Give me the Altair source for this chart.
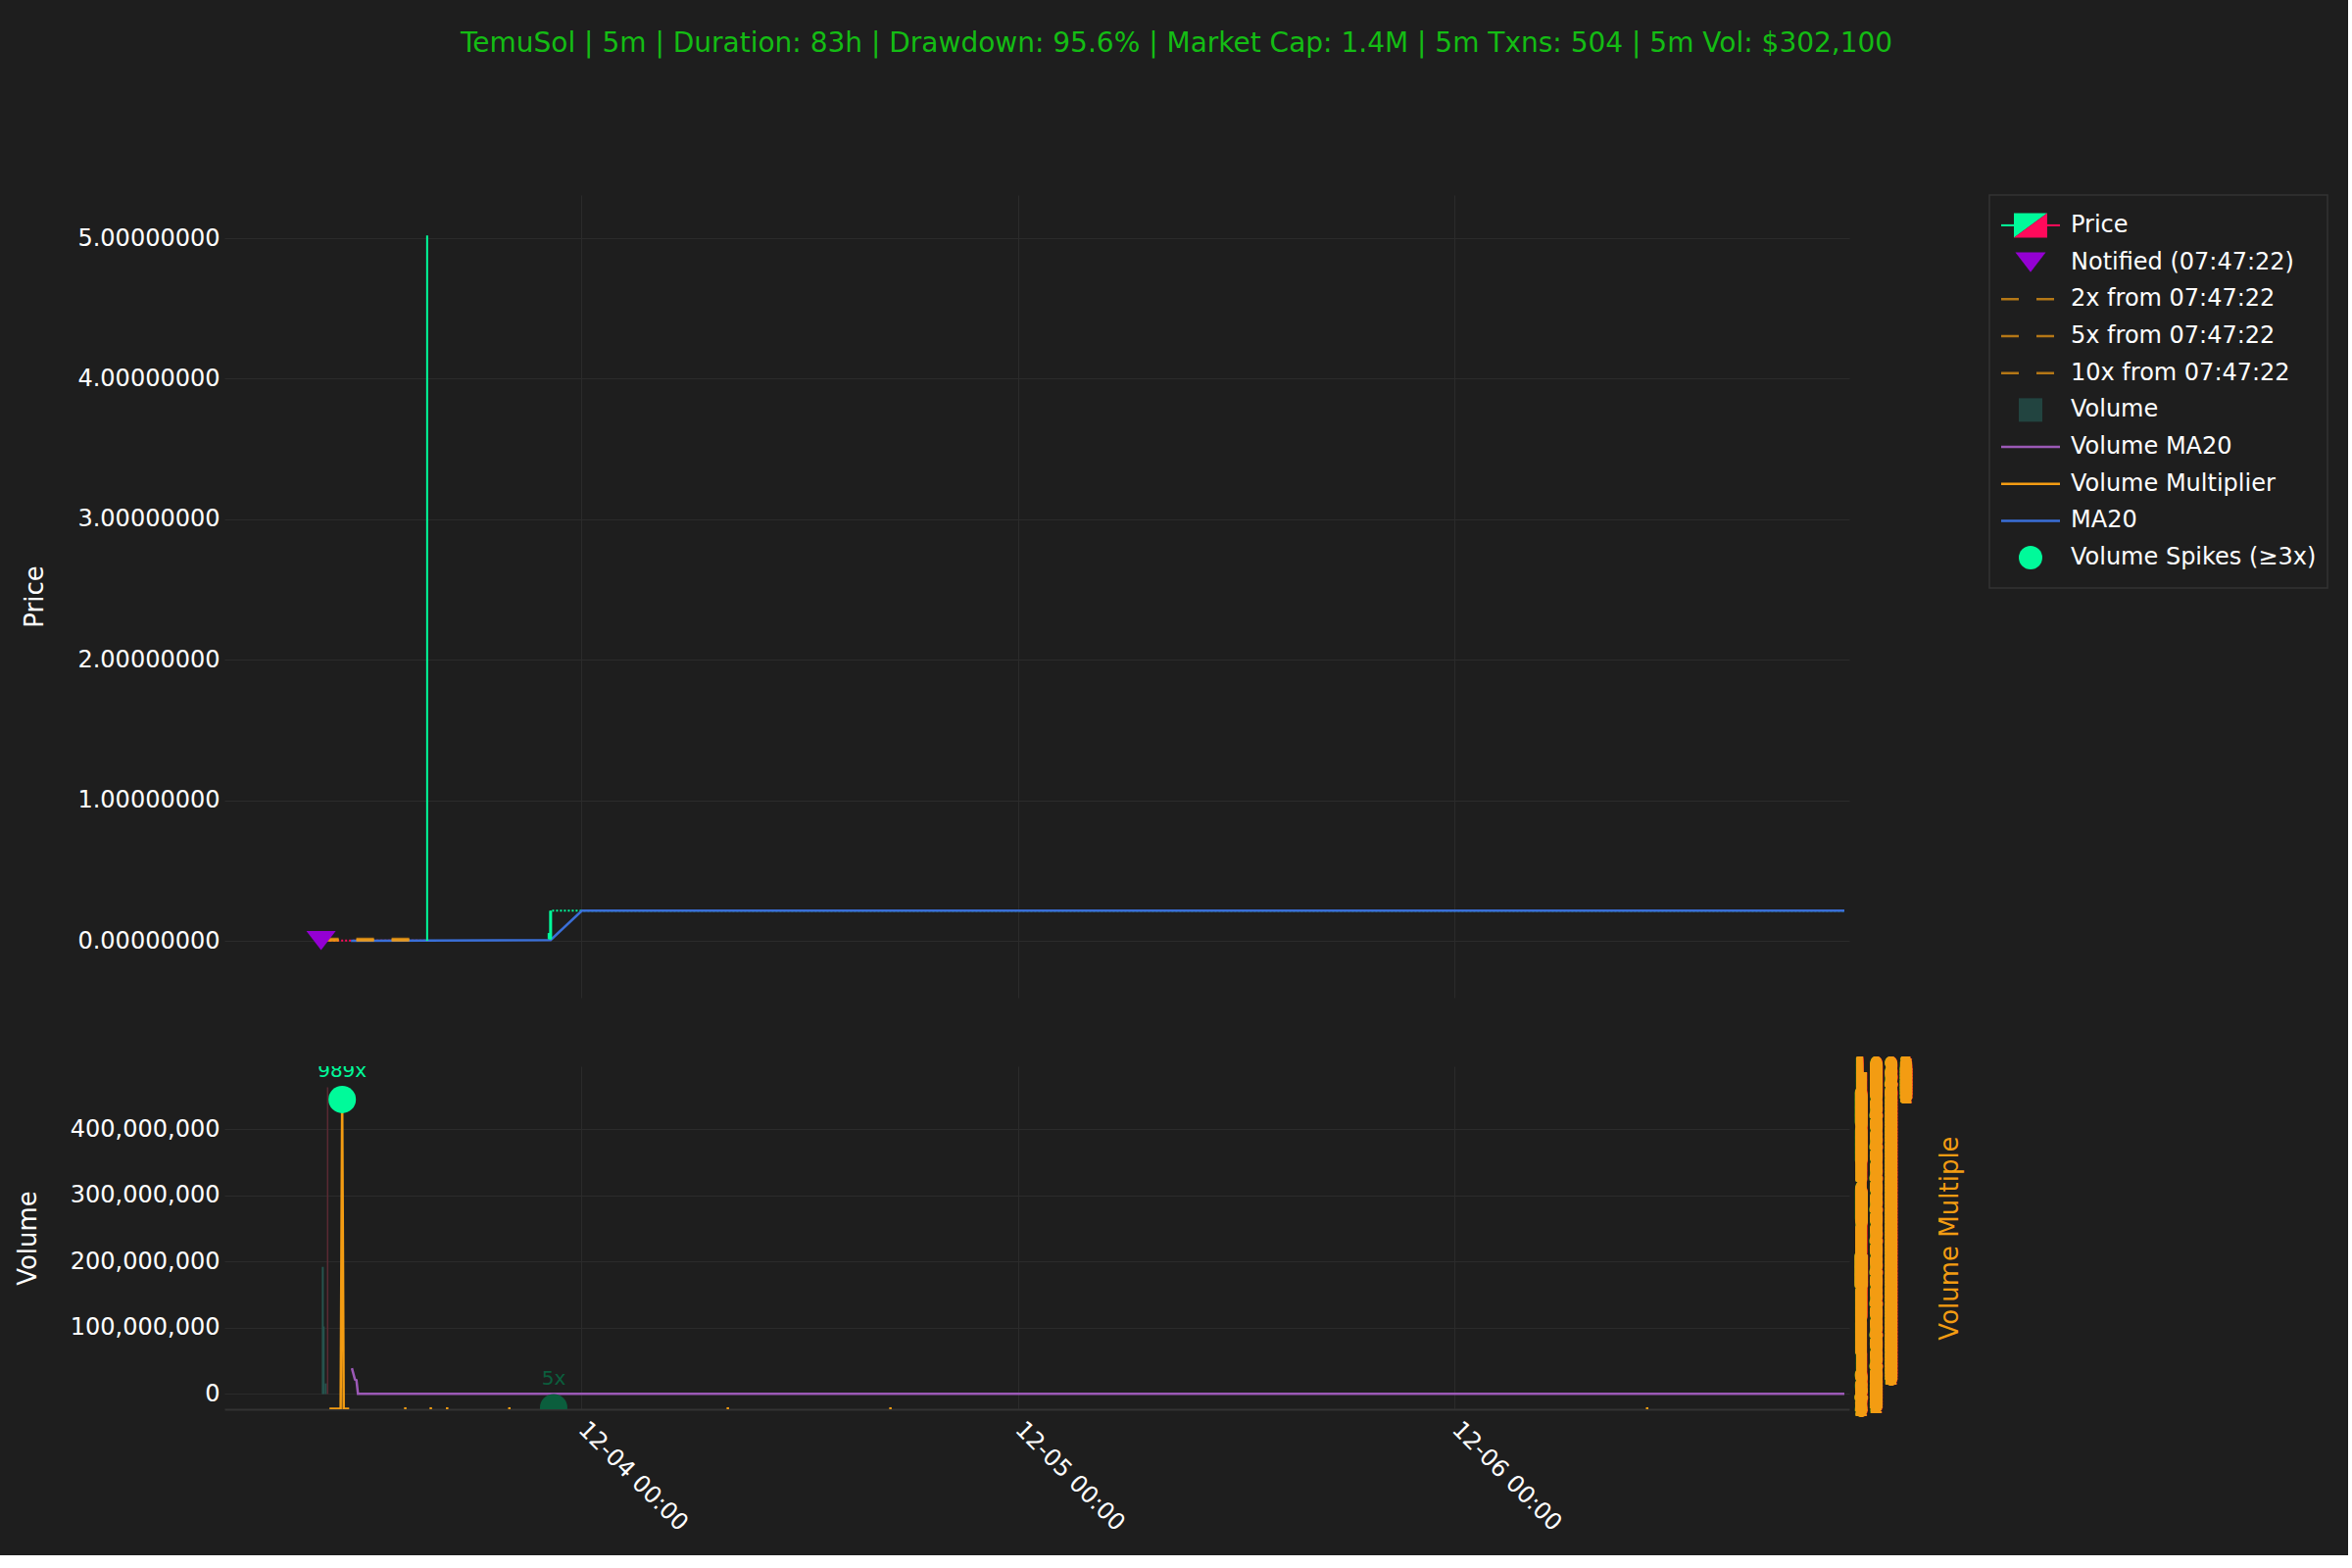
import altair as alt
import pandas as pd

# ------------------------------------------------------------------ data
title_text = ("TemuSol | 5m | Duration: 83h | Drawdown: 95.6% | Market Cap: 1.4M | "
              "5m Txns: 504 | 5m Vol: $302,100")

x_domain = ["2024-12-03T04:41:00", "2024-12-06T21:24:00"]

price_ticks = [0, 1, 2, 3, 4, 5]
price_domain = [-0.404, 5.307]
volume_ticks = [0, 100_000_000, 200_000_000, 300_000_000, 400_000_000]
volume_domain = [-23_000_000, 495_000_000]
mult_domain = [0, 1095]

# candles (only the visible ones)
candle_time = ["2024-12-03T15:33:00", "2024-12-03T22:15:00", "2024-12-03T22:20:00"]
candle_open = [0.0030, 0.0150, 0.0120]
candle_high = [5.0200, 0.0550, 0.2140]
candle_low = [0.0010, 0.0100, 0.0100]
candle_close = [0.0050, 0.0550, 0.2140]

# long runs of tiny candles (drawn as dotted levels)
flat_start = ["2024-12-03T10:11:00", "2024-12-03T22:25:00"]
flat_end = ["2024-12-03T15:30:00", "2024-12-06T21:24:00"]
flat_price = [0.0015, 0.2140]
flat_dir = ["down", "up"]

ma20_time = ["2024-12-03T11:22:00", "2024-12-03T15:30:00", "2024-12-03T22:20:00",
             "2024-12-04T00:03:00", "2024-12-06T21:24:00"]
ma20_value = [0.0010, 0.0030, 0.0060, 0.2140, 0.2140]

notified_time = "2024-12-03T09:43:22"
notified_price = 0.0015
target_mult = [2, 5, 10]
target_label = ["2x from 07:47:22", "5x from 07:47:22", "10x from 07:47:22"]
target_end = "2024-12-03T15:33:00"

vol_time = ["2024-12-03T09:49:00", "2024-12-03T09:52:00", "2024-12-03T09:59:00",
            "2024-12-03T10:05:00"]
vol_value = [192_000_000, 102_000_000, 16_000_000, 463_000_000]
vol_dir = ["up", "up", "up", "down"]

vma_time = ["2024-12-03T11:25:00", "2024-12-03T11:35:00", "2024-12-03T11:40:00",
            "2024-12-03T11:45:00", "2024-12-06T21:24:00"]
vma_value = [39_000_000, 22_000_000, 21_000_000, 300_000, 300_000]

mult_seg = [1, 1, 1, 1, 1, 2, 2, 3, 3, 4, 4, 5, 5, 6, 6, 7, 7, 8, 8]
mult_time = ["2024-12-03T10:11:00", "2024-12-03T10:48:00", "2024-12-03T10:53:00",
             "2024-12-03T10:58:00", "2024-12-03T11:16:00",
             "2024-12-03T14:17:00", "2024-12-03T14:25:00",
             "2024-12-03T15:41:00", "2024-12-03T15:49:00",
             "2024-12-03T16:35:00", "2024-12-03T16:43:00",
             "2024-12-03T20:00:00", "2024-12-03T20:08:00",
             "2024-12-04T08:00:00", "2024-12-04T08:08:00",
             "2024-12-04T16:56:00", "2024-12-04T17:04:00",
             "2024-12-06T10:30:00", "2024-12-06T10:38:00"]
mult_value = [1.2, 1.2, 989, 1.2, 1.2, 2.5, 2.5, 2.5, 2.5, 2.5, 2.5, 2.5, 2.5,
              2.5, 2.5, 2.5, 2.5, 2.5, 2.5]

spike_time = ["2024-12-03T10:53:00", "2024-12-03T22:30:00"]
spike_mult = [989, 5]
spike_label = ["989x", "5x"]
spike_color = ["#00fa9a", "#0b5e3d"]

legend_labels = ["Price", "Notified (07:47:22)", "2x from 07:47:22", "5x from 07:47:22",
                 "10x from 07:47:22", "Volume", "Volume MA20", "Volume Multiplier",
                 "MA20", "Volume Spikes (≥3x)"]

# ------------------------------------------------------------------ styles
BG = "#1e1e1e"
GRID = "#2b2b2b"
UP = "#00fa9a"
DOWN = "#ff0a5b"
VIOLET = "#9400d3"
ORANGE = "#f39c12"
PURPLE = "#9b59b6"
BLUE = "#3a6fd8"
VOLCOL = "#26534d"
VOLRED = "#5a2a33"
TITLE_GREEN = "#14bc14"
FONT = "DejaVu Sans"


def dt(s):
    t = pd.Timestamp(s)
    return alt.DateTime(year=t.year, month=t.month, date=t.day, hours=t.hour,
                        minutes=t.minute, seconds=t.second)


xscale = alt.Scale(domain=[dt(v) for v in x_domain], nice=False)
day_step = alt.TimeIntervalStep(interval="day", step=1)

top_xaxis = alt.Axis(labels=False, ticks=False, domain=False, title=None, grid=True,
                     gridColor=GRID, tickCount=day_step)
bot_xaxis = alt.Axis(title=None, grid=True, gridColor=GRID, tickCount=day_step,
                     format="%m-%d %H:%M", labelAngle=45, labelAlign="left",
                     labelBaseline="top", labelPadding=8, labelOffset=9, ticks=False,
                     domain=True, domainColor="#333333", domainWidth=2,
                     labelFontSize=24, labelColor="white")

price_axis = alt.Axis(title="Price", values=price_ticks, format=".8f", grid=True,
                      gridColor=GRID, ticks=False, domain=False, labelPadding=5,
                      labelFontSize=24, labelColor="white", titleFontSize=26,
                      titleColor="white", titleFontWeight="normal", titlePadding=30)
pscale = alt.Scale(domain=price_domain, nice=False, zero=False)

# ------------------------------------------------------------------ top panel
candles = pd.DataFrame({"t": candle_time, "o": candle_open, "h": candle_high,
                        "l": candle_low, "c": candle_close})
candles["dir"] = ["up" if c >= o else "down" for o, c in zip(candle_open, candle_close)]
flats = pd.DataFrame({"t0": flat_start, "t1": flat_end, "p": flat_price, "dir": flat_dir})
ma20 = pd.DataFrame({"t": ma20_time, "v": ma20_value})
targets = pd.DataFrame({"t0": notified_time, "t1": target_end,
                        "p": [notified_price * m for m in target_mult],
                        "label": target_label})
notified = pd.DataFrame({"t": [notified_time], "p": [notified_price]})

dir_color = alt.Color("dir:N", scale=alt.Scale(domain=["up", "down"], range=[UP, DOWN]),
                      legend=None)

targets_layer = alt.Chart(targets).mark_rule(
    color=ORANGE, opacity=0.7, strokeWidth=2.5, strokeDash=[18, 18]).encode(
    x=alt.X("t0:T", scale=xscale, axis=top_xaxis), x2="t1:T",
    y=alt.Y("p:Q", scale=pscale, axis=price_axis))

flat_layer = alt.Chart(flats).mark_rule(strokeWidth=2, strokeDash=[2, 2]).encode(
    x=alt.X("t0:T", scale=xscale, axis=top_xaxis), x2="t1:T",
    y=alt.Y("p:Q", scale=pscale, axis=price_axis), color=dir_color)

ma_layer = alt.Chart(ma20).mark_line(color=BLUE, strokeWidth=2.5).encode(
    x=alt.X("t:T", scale=xscale, axis=top_xaxis),
    y=alt.Y("v:Q", scale=pscale, axis=price_axis))

wick_layer = alt.Chart(candles).mark_rule(strokeWidth=2).encode(
    x=alt.X("t:T", scale=xscale, axis=top_xaxis),
    y=alt.Y("l:Q", scale=pscale, axis=price_axis), y2="h:Q", color=dir_color)

body_layer = alt.Chart(candles).mark_bar(width=3).encode(
    x=alt.X("t:T", scale=xscale, axis=top_xaxis),
    y=alt.Y("o:Q", scale=pscale, axis=price_axis), y2="c:Q", color=dir_color)

notified_layer = alt.Chart(notified).mark_point(
    shape="M-1,-0.65L1,-0.65L0,0.65Z", size=900, filled=True, opacity=1,
    color=VIOLET).encode(
    x=alt.X("t:T", scale=xscale, axis=top_xaxis),
    y=alt.Y("p:Q", scale=pscale, axis=price_axis))

top = alt.layer(flat_layer, ma_layer, targets_layer, wick_layer, body_layer,
                notified_layer).properties(width=1658, height=819)

# ------------------------------------------------------------------ bottom panel
vols = pd.DataFrame({"t": vol_time, "v": vol_value, "vdir": vol_dir})
vma = pd.DataFrame({"t": vma_time, "v": vma_value})
mult = pd.DataFrame({"t": mult_time, "m": mult_value, "seg": mult_seg})
spikes = pd.DataFrame({"t": spike_time, "m": spike_mult, "label": spike_label,
                       "col": spike_color})

vol_axis = alt.Axis(title="Volume", values=volume_ticks, format=",d", grid=True,
                    gridColor=GRID, ticks=False, domain=False, labelPadding=5,
                    labelFontSize=24, labelColor="white", titleFontSize=26,
                    titleColor="white", titleFontWeight="normal", titlePadding=30)
vscale = alt.Scale(domain=volume_domain, nice=False, zero=False)

mult_axis = alt.Axis(title="Volume Multiple", orient="right", tickCount=1100,
                     format="d", labelOverlap=False, grid=False, ticks=False,
                     domain=False, labelPadding=4, labelFontSize=24,
                     labelColor=ORANGE, titleColor=ORANGE, titleFontSize=26,
                     titleFontWeight="normal", titlePadding=24, titleAngle=270,
                     titleBaseline="top")
mscale = alt.Scale(domain=mult_domain, nice=False, zero=False)

vol_up_layer = alt.Chart(vols).transform_filter(alt.datum.vdir == "up").mark_bar(
    width=2, color=VOLCOL).encode(
    x=alt.X("t:T", scale=xscale, axis=bot_xaxis),
    y=alt.Y("v:Q", scale=vscale, axis=vol_axis))

vol_down_layer = alt.Chart(vols).transform_filter(alt.datum.vdir == "down").mark_bar(
    width=1.5, color=VOLRED).encode(
    x=alt.X("t:T", scale=xscale, axis=bot_xaxis),
    y=alt.Y("v:Q", scale=vscale, axis=vol_axis))

vma_layer = alt.Chart(vma).mark_line(color=PURPLE, strokeWidth=2.5).encode(
    x=alt.X("t:T", scale=xscale, axis=bot_xaxis),
    y=alt.Y("v:Q", scale=vscale, axis=vol_axis))

left = alt.layer(vol_up_layer, vol_down_layer, vma_layer)

mult_layer = alt.Chart(mult).mark_line(color=ORANGE, strokeWidth=2.5, clip=True).encode(
    x=alt.X("t:T", scale=xscale, axis=bot_xaxis),
    y=alt.Y("m:Q", scale=mscale, axis=mult_axis), detail="seg:N")

spike_layer = alt.Chart(spikes).mark_circle(size=784, opacity=1, clip=True).encode(
    x=alt.X("t:T", scale=xscale, axis=bot_xaxis),
    y=alt.Y("m:Q", scale=mscale, axis=mult_axis),
    color=alt.Color("col:N", scale=None))

spike_text = alt.Chart(spikes).mark_text(dy=-29, fontSize=20, clip=True).encode(
    x=alt.X("t:T", scale=xscale, axis=bot_xaxis),
    y=alt.Y("m:Q", scale=mscale, axis=mult_axis),
    text="label:N", color=alt.Color("col:N", scale=None))

right = alt.layer(mult_layer, spike_layer, spike_text)

bottom = alt.layer(left, right).resolve_scale(y="independent").properties(
    width=1658, height=350)

# ------------------------------------------------------------------ legend box
leg = pd.DataFrame({"label": legend_labels})
ly = alt.Y("label:N", axis=None,
           scale=alt.Scale(type="point", domain=legend_labels, padding=0.82))


def only(*names):
    return alt.FieldOneOfPredicate(field="label", oneOf=list(names))


base = alt.Chart(leg)
leg_layers = [
    base.mark_rule(color=UP, strokeWidth=2).encode(
        x=alt.value(12), x2=alt.value(25), y=ly).transform_filter(only("Price")),
    base.mark_rule(color=DOWN, strokeWidth=2).encode(
        x=alt.value(59), x2=alt.value(72), y=ly).transform_filter(only("Price")),
    base.mark_point(shape="M-1,-0.735L1,-0.735L-1,0.735Z", size=1156, filled=True,
                    opacity=1, color=UP).encode(x=alt.value(42), y=ly)
        .transform_filter(only("Price")),
    base.mark_point(shape="M1,-0.735L1,0.735L-1,0.735Z", size=1156, filled=True,
                    opacity=1, color=DOWN).encode(x=alt.value(42), y=ly)
        .transform_filter(only("Price")),
    base.mark_point(shape="M-1,-0.65L1,-0.65L0,0.65Z", size=961, filled=True,
                    opacity=1, color=VIOLET).encode(x=alt.value(42), y=ly)
        .transform_filter(only("Notified (07:47:22)")),
    base.mark_rule(color=ORANGE, opacity=0.7, strokeWidth=2.5, strokeDash=[18, 18]).encode(
        x=alt.value(12), x2=alt.value(67), y=ly).transform_filter(only(*target_label)),
    base.mark_point(shape="square", size=576, filled=True, opacity=1,
                    color="#224440").encode(x=alt.value(42), y=ly)
        .transform_filter(only("Volume")),
    base.mark_rule(color=PURPLE, strokeWidth=2.5).encode(
        x=alt.value(12), x2=alt.value(72), y=ly).transform_filter(only("Volume MA20")),
    base.mark_rule(color=ORANGE, strokeWidth=2.5).encode(
        x=alt.value(12), x2=alt.value(72), y=ly).transform_filter(only("Volume Multiplier")),
    base.mark_rule(color=BLUE, strokeWidth=2.5).encode(
        x=alt.value(12), x2=alt.value(72), y=ly).transform_filter(only("MA20")),
    base.mark_point(shape="circle", size=576, filled=True, opacity=1, color=UP).encode(
        x=alt.value(42), y=ly).transform_filter(only("Volume Spikes (≥3x)")),
    base.mark_text(align="left", baseline="middle", fontSize=24, color="white",
                   font=FONT).encode(x=alt.value(83), y=ly, text="label:N"),
]
legend = alt.layer(*leg_layers).properties(
    width=345, height=401,
    view=alt.ViewBackground(stroke="#333333", strokeWidth=1.5, fill=BG))

# ------------------------------------------------------------------ assemble
chart = alt.concat(top, legend, bottom, columns=2, align="each",
                   spacing={"row": 58, "column": 26}).properties(
    title=alt.Title(title_text, fontSize=28, color=TITLE_GREEN, fontWeight="normal",
                    anchor="middle", offset=139, font=FONT, dx=5),
    background=BG,
    padding={"left": 15, "top": 31, "right": 20, "bottom": 20},
).resolve_scale(color="independent").configure_view(stroke=None).configure_axis(
    labelFont=FONT, titleFont=FONT).configure_text(font=FONT)

chart.save("out.html", embed_options={"renderer": "svg", "actions": False})
